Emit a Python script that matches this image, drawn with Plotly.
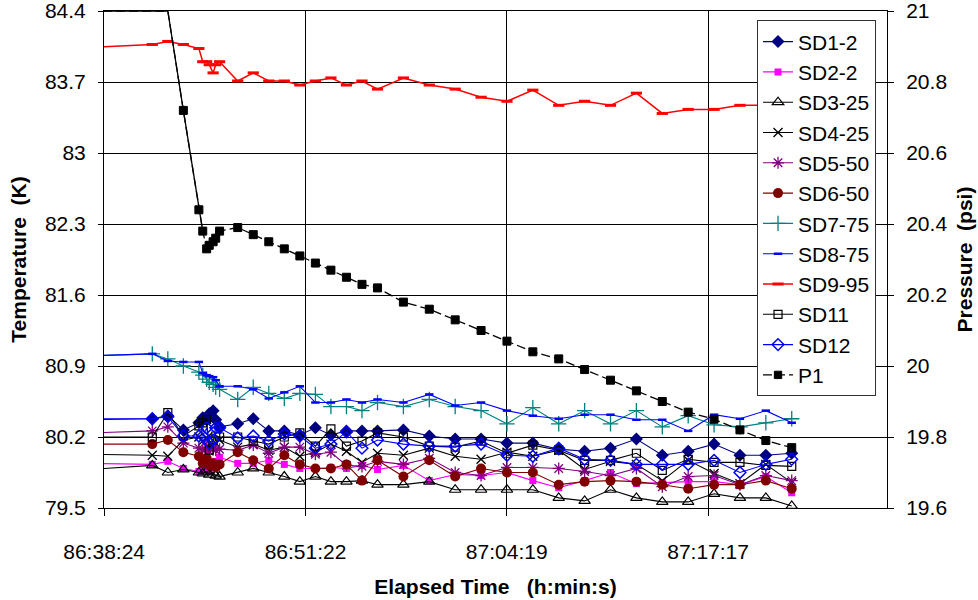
import plotly.graph_objects as go

# ---------------- data ----------------
times = ["86:37:30", "86:41:30", "86:42:30", "86:43:30", "86:44:30", "86:44:45", "86:45:00",
         "86:45:10", "86:45:25", "86:45:35", "86:45:50", "86:47:00", "86:48:00", "86:49:00",
         "86:50:00", "86:51:00", "86:52:00", "86:53:00", "86:54:00", "86:55:00", "86:56:00",
         "86:57:40", "86:59:20", "87:01:00", "87:02:40", "87:04:20", "87:06:00", "87:07:40",
         "87:09:20", "87:11:00", "87:12:40", "87:14:20", "87:16:00", "87:17:40", "87:19:20",
         "87:21:00", "87:22:40"]

sd1_2 = [80.37, 80.38, 80.41, 80.27, 80.34, 80.39, 80.37, 80.43, 80.46, 80.37, 80.30, 80.33, 80.38,
         80.26, 80.26, 80.22, 80.29, 80.22, 80.26, 80.26, 80.26, 80.27, 80.21, 80.18, 80.18, 80.14,
         80.14, 80.08, 80.06, 80.09, 80.18, 80.02, 80.06, 80.13, 80.02, 80.02, 80.04]
sd2_2 = [79.94, 79.93, 79.96, 79.89, 79.86, 79.88, 79.91, 79.86, 79.92, 79.96, 80.00, 79.94, 79.94,
         79.97, 79.93, 79.89, 79.89, 79.90, 79.89, 79.92, 79.88, 79.92, 79.77, 79.83, 79.82, 79.85,
         79.77, 79.70, 79.77, 79.85, 79.74, 79.75, 79.76, 79.76, 79.73, 79.81, 79.65]
sd3_25 = [79.88, 79.92, 79.85, 79.88, 79.85, 79.84, 79.86, 79.83, 79.85, 79.82, 79.81, 79.85, 79.89,
          79.85, 79.81, 79.76, 79.81, 79.76, 79.76, 79.77, 79.73, 79.73, 79.76, 79.68, 79.68, 79.68,
          79.68, 79.60, 79.57, 79.68, 79.60, 79.56, 79.56, 79.64, 79.60, 79.60, 79.52]
sd4_25 = [80.03, 80.02, 80.01, 80.17, 80.20, 80.16, 80.19, 80.10, 80.12, 80.14, 80.17, 80.10, 80.13,
          80.07, 80.10, 80.01, 80.05, 80.13, 80.06, 79.95, 80.04, 80.02, 80.09, 80.01, 79.98, 80.05,
          80.01, 80.07, 79.88, 79.96, 79.93, 79.77, 79.97, 79.84, 79.74, 79.93, 79.75]
sd5_50 = [80.24, 80.26, 80.30, 80.14, 80.09, 80.07, 80.10, 80.06, 80.09, 80.07, 80.08, 80.07, 80.12,
          80.04, 80.10, 80.10, 80.03, 80.05, 79.92, 79.91, 79.96, 79.93, 79.99, 79.85, 79.82, 79.90,
          79.90, 79.89, 79.86, 79.82, 79.89, 79.71, 79.81, 79.82, 79.73, 79.82, 79.77]
sd6_50 = [80.13, 80.13, 80.17, 80.05, 80.01, 79.94, 79.99, 79.92, 79.94, 79.90, 79.93, 80.05, 79.97,
          79.89, 80.02, 79.93, 79.89, 79.89, 79.93, 79.77, 79.97, 79.81, 79.97, 79.81, 79.89, 79.85,
          79.85, 79.73, 79.76, 79.77, 79.76, 79.73, 79.69, 79.73, 79.73, 79.77, 79.69]
sd7_75 = [81.00, 81.02, 80.97, 80.90, 80.84, 80.81, 80.77, 80.74, 80.72, 80.69, 80.67, 80.57, 80.69,
          80.63, 80.58, 80.63, 80.62, 80.50, 80.50, 80.46, 80.54, 80.50, 80.57, 80.50, 80.46, 80.33,
          80.49, 80.33, 80.46, 80.33, 80.46, 80.30, 80.41, 80.32, 80.30, 80.34, 80.38]
sd8_75 = [81.00, 81.02, 80.95, 80.94, 80.94, 80.83, 80.81, 80.80, 80.79, 80.76, 80.70, 80.70, 80.67,
          80.58, 80.64, 80.70, 80.54, 80.54, 80.57, 80.54, 80.57, 80.54, 80.62, 80.51, 80.54, 80.46,
          80.41, 80.38, 80.42, 80.42, 80.37, 80.37, 80.26, 80.42, 80.38, 80.46, 80.34]
sd9_95 = [84.04, 84.07, 84.10, 84.07, 84.03, 83.90, 83.90, 83.87, 83.79, 83.87, 83.90, 83.71, 83.79,
          83.71, 83.71, 83.67, 83.71, 83.74, 83.67, 83.71, 83.63, 83.74, 83.67, 83.63, 83.55, 83.51,
          83.62, 83.47, 83.51, 83.47, 83.59, 83.39, 83.43, 83.43, 83.47, 83.47, 83.47]
sd11 = [80.20, 80.20, 80.44, 80.21, 80.31, 80.34, 80.37, 80.07, 80.17, 80.21, 80.20, 80.20, 80.16,
        80.13, 80.20, 80.24, 80.11, 80.28, 80.11, 80.16, 80.24, 80.20, 80.11, 80.10, 80.16, 80.04,
        80.12, 80.07, 79.97, 79.97, 80.04, 79.87, 79.98, 79.95, 79.95, 79.92, 79.91]
sd12 = [80.38, 80.38, 80.40, 80.21, 80.21, 80.21, 80.29, 80.14, 80.17, 80.29, 80.29, 80.19, 80.21,
        80.16, 80.23, 80.21, 80.09, 80.13, 80.25, 80.09, 80.17, 80.13, 80.11, 80.11, 80.13, 80.02,
        80.01, 80.09, 79.98, 79.97, 79.93, 79.93, 79.93, 79.97, 79.85, 79.93, 79.98]
p1 = [21.0, 21.0, 21.0, 20.72, 20.44, 20.38, 20.33, 20.34, 20.35, 20.36, 20.38, 20.39, 20.37, 20.35,
      20.33, 20.31, 20.29, 20.27, 20.25, 20.23, 20.22, 20.18, 20.16, 20.13, 20.10, 20.07, 20.04,
      20.02, 19.99, 19.96, 19.93, 19.90, 19.87, 19.85, 19.82, 19.79, 19.77]

x_tick_labels = ["86:38:24", "86:51:22", "87:04:19", "87:17:17"]
x_range_labels = ["86:38:24", "87:28:48"]
temp_ticks = [79.5, 80.2, 80.9, 81.6, 82.3, 83, 83.7, 84.4]
press_ticks = [19.6, 19.8, 20.0, 20.2, 20.4, 20.6, 20.8, 21.0]


def to_sec(s):
    h, m, sec = (int(v) for v in s.split(":"))
    return h * 3600 + m * 60 + sec


x = [to_sec(t) for t in times]
FONT = "Arial, 'Liberation Sans', sans-serif"

fig = go.Figure()

series = [
    ("SD1-2", sd1_2, "#000080", dict(symbol="diamond", size=10, color="#000080")),
    ("SD2-2", sd2_2, "#FF00FF", dict(symbol="square", size=7, color="#FF00FF")),
    ("SD3-25", sd3_25, "#000000", dict(symbol="triangle-up-open", size=10, color="#000000",
                                       line=dict(width=1.2))),
    ("SD4-25", sd4_25, "#000000", dict(symbol="x-thin", size=9, color="#000000",
                                       line=dict(width=1.3, color="#000000"))),
    ("SD5-50", sd5_50, "#800080", dict(symbol="asterisk", size=10, color="#800080",
                                       line=dict(width=1.3, color="#800080"))),
    ("SD6-50", sd6_50, "#800000", dict(symbol="circle", size=10, color="#800000")),
    ("SD7-75", sd7_75, "#008080", dict(symbol="cross-thin", size=11, color="#008080",
                                       line=dict(width=1.3, color="#008080"))),
    ("SD8-75", sd8_75, "#0000FF", dict(symbol="line-ew", size=6, color="#0000FF",
                                       line=dict(width=2.5, color="#0000FF"))),
    ("SD9-95", sd9_95, "#FF0000", dict(symbol="line-ew", size=8, color="#FF0000",
                                       line=dict(width=3, color="#FF0000"))),
    ("SD11", sd11, "#000000", dict(symbol="square-open", size=8, color="#000000",
                                   line=dict(width=1.2))),
    ("SD12", sd12, "#0000FF", dict(symbol="diamond-open", size=9, color="#0000FF",
                                   line=dict(width=1.5))),
]

for name, vals, col, mk in series:
    fig.add_trace(go.Scatter(
        x=x, y=vals, name=name, mode="lines+markers",
        line=dict(color=col, width=1.5 if name == "SD9-95" else 1.1),
        marker=mk, yaxis="y",
    ))

p1_sizes = [0 if v >= 21.0 else 8 for v in p1]
fig.add_trace(go.Scatter(
    x=x, y=p1, name="P1", mode="lines+markers", yaxis="y2",
    line=dict(color="#000000", width=1.3, dash="9px,4px"),
    marker=dict(symbol="square", size=p1_sizes, color="#000000", opacity=1,
                line=dict(width=1, color="#000000")),
))
fig.add_trace(go.Scatter(
    x=x[:6], y=p1[:6], mode="lines", yaxis="y2", showlegend=False,
    line=dict(color="#000000", width=1.3), hoverinfo="skip",
))

x_tickvals = [to_sec(t) for t in x_tick_labels]
EPS_T = 1e-6

fig.update_layout(
    width=978, height=600,
    margin=dict(l=104, r=91, t=11, b=92),
    paper_bgcolor="white", plot_bgcolor="white",
    font=dict(family=FONT, size=21, color="#000000"),
    showlegend=True,
    legend=dict(
        x=0.834, y=0.981, xanchor="left", yanchor="top",
        bgcolor="white", bordercolor="#333333", borderwidth=1,
        font=dict(family=FONT, size=21, color="#000000"),
        tracegroupgap=0, itemwidth=30,
    ),
    xaxis=dict(
        range=[to_sec(x_range_labels[0]) - 0.5, to_sec(x_range_labels[1])],
        tickvals=x_tickvals, ticktext=x_tick_labels,
        showgrid=True, gridcolor="#000000", gridwidth=1,
        showline=True, linecolor="#000000", linewidth=1, mirror=True,
        ticks="outside", ticklen=7, tickcolor="#000000",
        ticklabelstandoff=18, ticklabeloverflow="allow",
        zeroline=False,
        title=dict(text="<b>Elapsed Time\u00a0\u00a0\u00a0(h:min:s)</b>", standoff=17,
                   font=dict(family=FONT, size=21)),
        automargin=False,
    ),
    yaxis=dict(
        range=[79.5 - EPS_T, 84.4 + EPS_T], tickvals=temp_ticks,
        ticktext=[("%g" % v) for v in temp_ticks],
        showgrid=True, gridcolor="#000000", gridwidth=1,
        showline=True, linecolor="#000000", linewidth=1,
        ticks="outside", ticklen=5, tickcolor="#000000",
        ticklabelstandoff=8, ticklabeloverflow="allow", zeroline=False,
        title=dict(text="<b>Temperature\u00a0\u00a0(K)</b>", standoff=12,
                   font=dict(family=FONT, size=21)),
        automargin=False,
    ),
    yaxis2=dict(
        range=[19.6 - EPS_T, 21.0 + EPS_T], tickvals=press_ticks,
        ticktext=[("%g" % v) for v in press_ticks],
        overlaying="y", side="right", showgrid=False,
        showline=True, linecolor="#000000", linewidth=1,
        ticks="outside", ticklen=6, tickcolor="#000000",
        ticklabelstandoff=8, ticklabeloverflow="allow", zeroline=False,
        title=dict(text="<b>Pressure\u00a0\u00a0(psi)</b>", standoff=10,
                   font=dict(family=FONT, size=21)),
        automargin=False,
    ),
)

fig.write_html("out.html")
